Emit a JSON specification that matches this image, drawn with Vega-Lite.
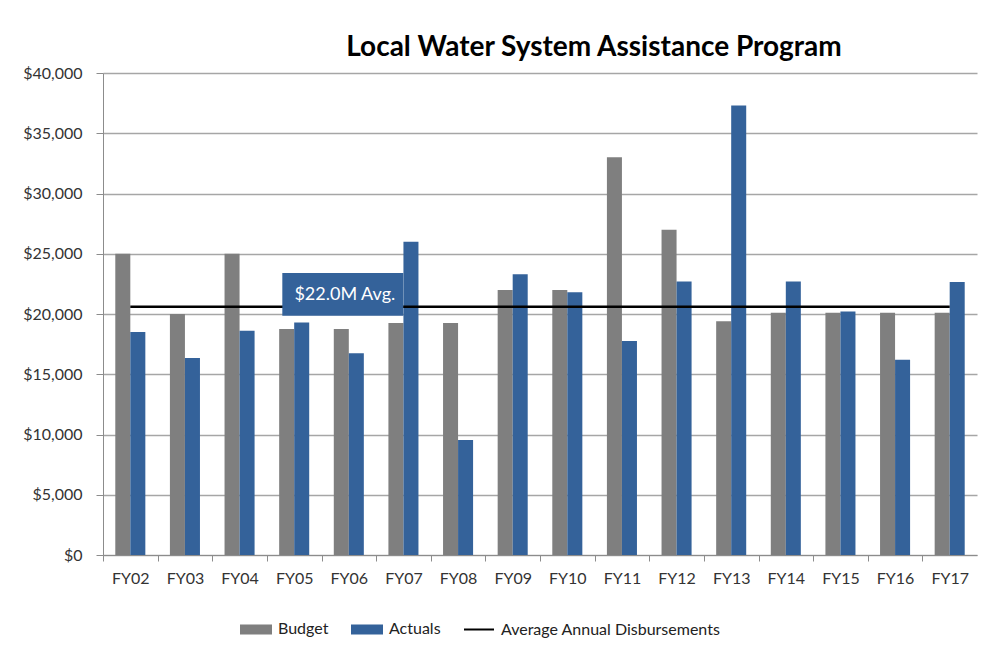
{
  "$schema": "https://vega.github.io/schema/vega-lite/v6.json",
  "width": 874,
  "height": 482,
  "autosize": {"type": "none"},
  "padding": {"left": 103, "top": 73, "right": 8, "bottom": 101},
  "background": "white",
  "config": {
    "font": "Lato",
    "view": {"stroke": null},
    "axis": {"labelFont": "Lato", "labelFontSize": 16, "labelColor": "#333333", "domainColor": "#8c8c8c", "tickColor": "#8c8c8c", "gridColor": "#a6a6a6", "gridWidth": 1.3}
  },
  "title": {"text": "Local Water System Assistance Program", "font": "Lato", "fontSize": 28, "fontWeight": "bold", "color": "#000000", "anchor": "middle", "dx": 54, "offset": 3},
  "data": {"values": [
    {"fy": "FY02", "Budget": 25000, "Actuals": 18500, "avg": 20600},
    {"fy": "FY03", "Budget": 20000, "Actuals": 16350, "avg": 20600},
    {"fy": "FY04", "Budget": 25000, "Actuals": 18600, "avg": 20600},
    {"fy": "FY05", "Budget": 18750, "Actuals": 19300, "avg": 20600},
    {"fy": "FY06", "Budget": 18750, "Actuals": 16750, "avg": 20600},
    {"fy": "FY07", "Budget": 19250, "Actuals": 26000, "avg": 20600},
    {"fy": "FY08", "Budget": 19250, "Actuals": 9550, "avg": 20600},
    {"fy": "FY09", "Budget": 22000, "Actuals": 23300, "avg": 20600},
    {"fy": "FY10", "Budget": 22000, "Actuals": 21800, "avg": 20600},
    {"fy": "FY11", "Budget": 33000, "Actuals": 17750, "avg": 20600},
    {"fy": "FY12", "Budget": 27000, "Actuals": 22700, "avg": 20600},
    {"fy": "FY13", "Budget": 19400, "Actuals": 37300, "avg": 20600},
    {"fy": "FY14", "Budget": 20100, "Actuals": 22700, "avg": 20600},
    {"fy": "FY15", "Budget": 20100, "Actuals": 20200, "avg": 20600},
    {"fy": "FY16", "Budget": 20100, "Actuals": 16200, "avg": 20600},
    {"fy": "FY17", "Budget": 20100, "Actuals": 22650, "avg": 20600}
  ]},
  "encoding": {
    "x": {"field": "fy", "type": "nominal", "sort": null,
      "scale": {"paddingInner": 0.45, "paddingOuter": 0.225},
      "axis": {"title": null, "labelAngle": 0, "ticks": true, "tickSize": 6, "tickOffset": -27.3, "labelOffset": 27.3, "labelPadding": 9, "domain": true, "grid": false}
    }
  },
  "layer": [
    {
      "mark": {"type": "bar"},
      "transform": [{"fold": ["Budget", "Actuals"], "as": ["series", "value"]}],
      "encoding": {
        "xOffset": {"field": "series", "type": "nominal", "sort": ["Budget", "Actuals"], "scale": {"paddingInner": 0, "paddingOuter": 0}},
        "y": {"field": "value", "type": "quantitative",
          "scale": {"domain": [0, 40000], "nice": false},
          "axis": {"title": null, "format": "$,.0f", "values": [0,5000,10000,15000,20000,25000,30000,35000,40000], "labelOverlap": false, "labelFontSize": 16, "tickSize": 7, "labelPadding": 14, "grid": true}
        },
        "color": {"field": "series", "type": "nominal",
          "scale": {"domain": ["Budget", "Actuals", "Average Annual Disbursements"], "range": ["#7f7f7f", "#34629a", "#000000"]},
          "legend": {"title": null, "orient": "none", "legendX": 137, "legendY": 540, "direction": "horizontal", "labelFontSize": 16, "labelFont": "Lato", "labelColor": "#222222", "labelLimit": 400, "symbolSize": 900, "columnPadding": 19, "labelOffset": 6,
            "encode": {"symbols": {"update": {
              "shape": {"signal": "datum.value === 'Average Annual Disbursements' ? 'M-1,0H1' : 'M-1,-0.27H1V0.27H-1Z'"},
              "fill": {"signal": "datum.value === 'Budget' ? '#7f7f7f' : datum.value === 'Actuals' ? '#34629a' : 'transparent'"},
              "stroke": {"signal": "datum.value === 'Average Annual Disbursements' ? '#000000' : 'transparent'"},
              "strokeWidth": {"value": 2},
              "opacity": {"value": 1}
            }}}
          }
        }
      }
    },
    {
      "mark": {"type": "line", "strokeWidth": 2.5},
      "encoding": {
        "y": {"field": "avg", "type": "quantitative"},
        "color": {"datum": "Average Annual Disbursements"}
      }
    },
    {
      "data": {"values": [{"fy": "FY06", "top": 23400, "bottom": 19850, "mid": 21550, "label": "$22.0M Avg."}]},
      "mark": {"type": "bar", "width": 121, "xOffset": -6, "color": "#34629a"},
      "encoding": {
        "y": {"field": "top", "type": "quantitative"},
        "y2": {"field": "bottom"}
      }
    },
    {
      "data": {"values": [{"fy": "FY06", "top": 23400, "bottom": 19850, "mid": 21550, "label": "$22.0M Avg."}]},
      "mark": {"type": "text", "color": "white", "fontSize": 18, "font": "Lato", "dx": -4, "baseline": "middle", "align": "center"},
      "encoding": {
        "y": {"field": "mid", "type": "quantitative"},
        "text": {"field": "label"}
      }
    }
  ]
}
